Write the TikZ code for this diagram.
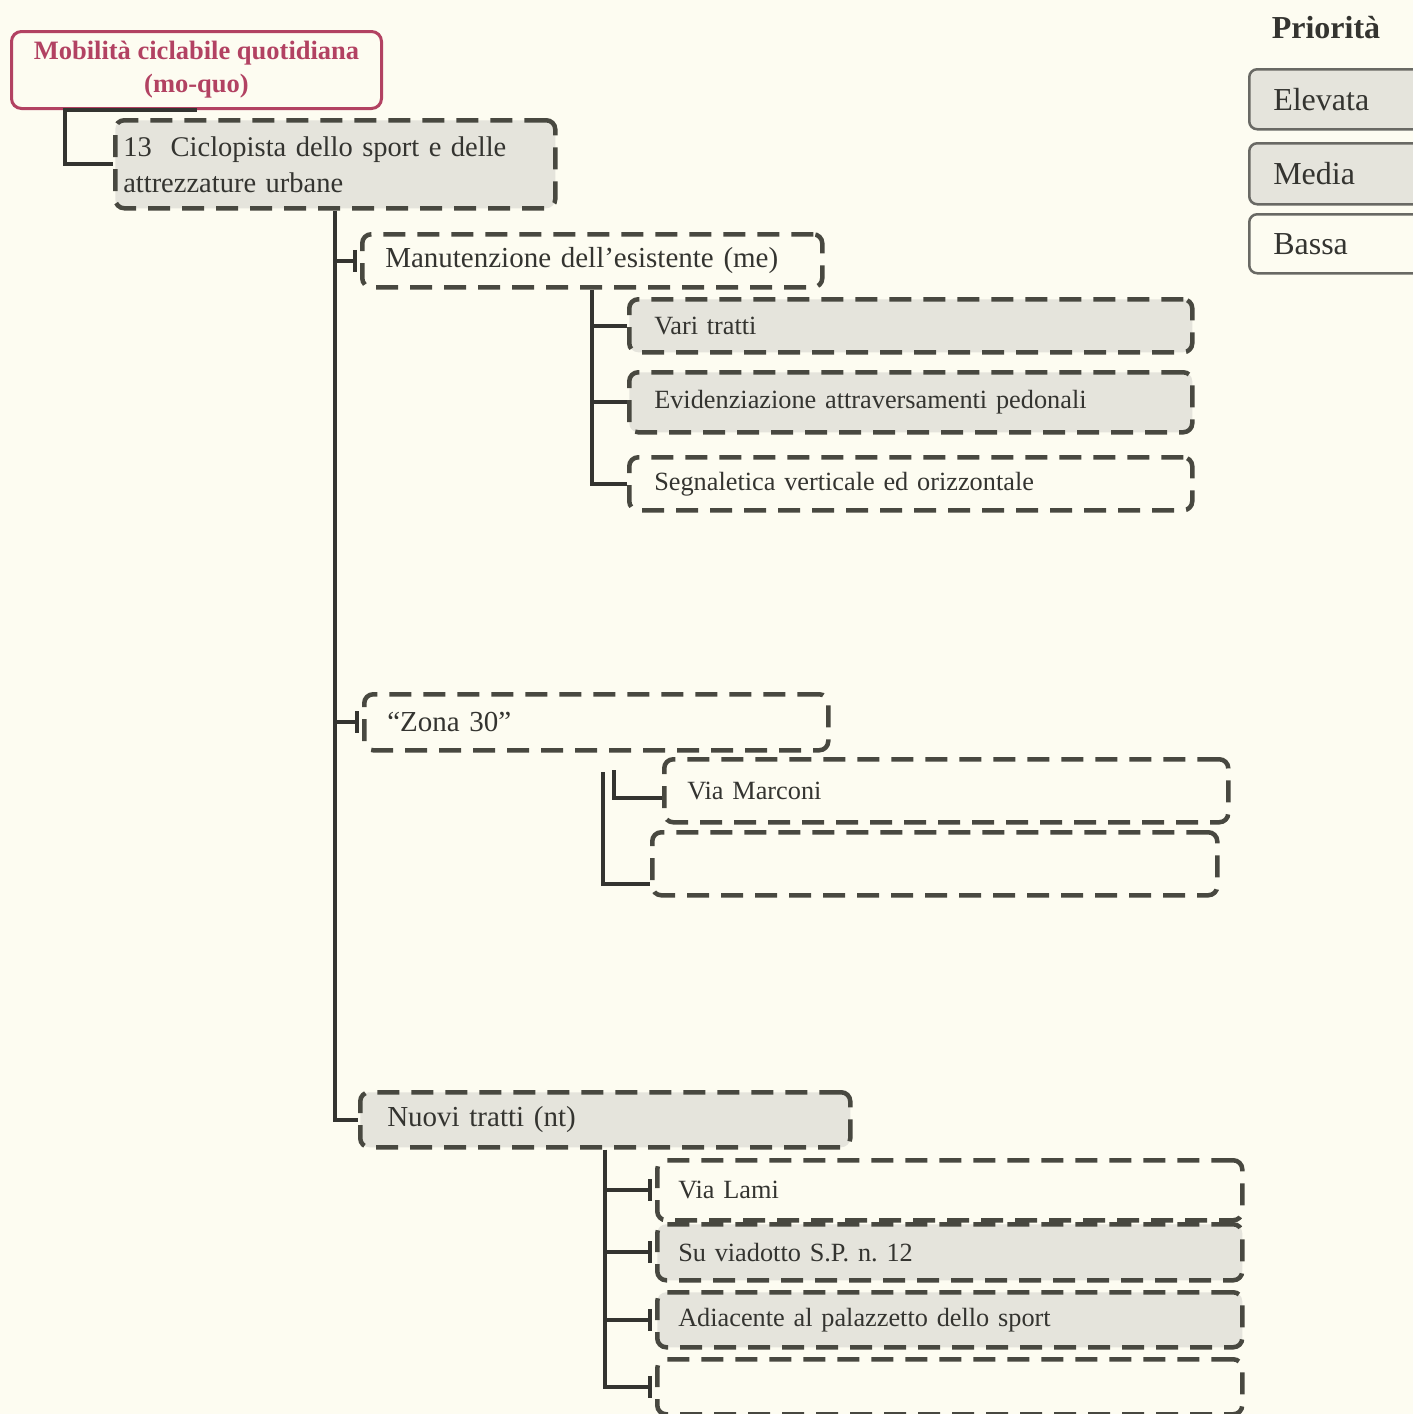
\documentclass[tikz,border=0pt]{standalone}
\usepackage{fontspec}
\setmainfont{Liberation Serif}
\usetikzlibrary{arrows.meta}
\definecolor{paper}{RGB}{253,252,241}
\definecolor{boxgray}{RGB}{229,228,220}
\definecolor{dashc}{RGB}{72,72,64}
\definecolor{ink}{RGB}{52,52,48}
\definecolor{rose}{RGB}{178,66,98}
\definecolor{legline}{RGB}{105,105,100}
\begin{document}
\frenchspacing
\begin{tikzpicture}[x=1pt,y=1pt,
  every node/.style={text=ink},
  dbox/.style={draw=dashc, line width=4.5pt, dash pattern=on 22pt off 12pt,
    rounded corners=9pt, anchor=north west, inner ysep=0pt, align=left},
  shade/.style={fill=boxgray},
  big/.style={font=\fontsize{29pt}{34pt}\selectfont},
  mid/.style={font=\fontsize{26.3pt}{32pt}\selectfont},
  legbox/.style={draw=legline, line width=2.5pt, rounded corners=8pt,
    anchor=north west, inner ysep=0pt, align=left,
    font=\fontsize{32pt}{36pt}\selectfont},
  link/.style={draw=ink, line width=4pt},
  tee/.style={link, -{Bar[width=22pt,line width=4pt]}, shorten >=3pt}
]
% page
\fill[paper] (0,0) rectangle (1413,-1414);
\useasboundingbox (0,0) rectangle (1413,-1414);

% root
\node[draw=rose, line width=3pt, rounded corners=10pt, anchor=north west,
  minimum width=370pt, minimum height=77pt, align=center, text=rose,
  font=\bfseries\fontsize{26.5pt}{33pt}\selectfont]
  (top) at (10,-30) {Mobilità ciclabile quotidiana\\(mo-quo)};

% first level
\node[dbox, shade, minimum width=440pt, minimum height=88pt, text width=424pt,
  inner xsep=8pt, font=\fontsize{28.5pt}{36pt}\selectfont]
  (n13) at (113,-118) {13\ \ Ciclopista dello sport e delle\\attrezzature urbane};

% second level
\node[dbox, big, minimum width=460pt, minimum height=53pt, text width=414pt,
  inner xsep=23pt] (me) at (360,-232) {Manutenzione dell’esistente (me)};
\node[dbox, big, minimum width=464pt, minimum height=56pt, text width=418pt,
  inner xsep=23pt] (zona) at (362,-692) {“Zona 30”};
\node[dbox, big, shade, minimum width=490pt, minimum height=55pt, text width=436pt,
  inner xsep=27pt] (nuovi) at (358,-1090) {Nuovi tratti (nt)};

% third level: maintenance
\node[dbox, mid, shade, minimum width=563pt, minimum height=53pt, text width=513pt,
  inner xsep=25pt] (vari) at (627,-297) {Vari tratti};
\node[dbox, mid, shade, minimum width=563pt, minimum height=60pt, text width=513pt,
  inner xsep=25pt] (evid) at (627,-370) {Evidenziazione attraversamenti pedonali};
\node[dbox, mid, minimum width=563pt, minimum height=53pt, text width=513pt,
  inner xsep=25pt] (segn) at (627,-455) {Segnaletica verticale ed orizzontale};

% third level: zone 30
\node[dbox, mid, minimum width=564pt, minimum height=63pt, text width=518pt,
  inner xsep=23pt] (marconi) at (662,-757) {Via Marconi};
\node[dbox, mid, minimum width=565pt, minimum height=63pt, text width=519pt,
  inner xsep=23pt] (zempty) at (650,-830) {};

% third level: new stretches
\node[dbox, mid, minimum width=585pt, minimum height=60pt, text width=543pt,
  inner xsep=21pt] (lami) at (655,-1158) {Via Lami};
\node[dbox, mid, shade, minimum width=585pt, minimum height=56pt, text width=543pt,
  inner xsep=21pt] (viad) at (655,-1222) {Su viadotto S.P. n. 12};
\node[dbox, mid, shade, minimum width=585pt, minimum height=55pt, text width=543pt,
  inner xsep=21pt] (adia) at (655,-1290) {Adiacente al palazzetto dello sport};
\node[dbox, mid, minimum width=585pt, minimum height=55pt, text width=543pt,
  inner xsep=21pt] (nempty) at (655,-1357) {};

% legend
\node[font=\bfseries\fontsize{32pt}{36pt}\selectfont] (prio) at (1326,-28) {Priorità};
\node[legbox, shade, minimum width=180pt, minimum height=60pt, text width=140pt,
  inner xsep=24pt] (elev) at (1248,-68) {Elevata};
\node[legbox, shade, minimum width=180pt, minimum height=61pt, text width=140pt,
  inner xsep=24pt] (media) at (1248,-142) {Media};
\node[legbox, fill=paper, minimum width=180pt, minimum height=59pt, text width=140pt,
  inner xsep=24pt] (bassa) at (1248,-213) {Bassa};

% connectors
\draw[link] (top.south) -- ++(-132,0) |- (n13.west);
\draw[link] (n13.south) |- (nuovi.west);
\draw[tee] (n13.south |- me.west) -- (me.west);
\draw[tee] (n13.south |- zona.west) -- (zona.west);

\draw[link] (me.south) |- (segn.west);
\draw[link] (me.south |- vari.west) -- (vari.west);
\draw[link] (me.south |- evid.west) -- (evid.west);

\coordinate (z1) at (614,-770);
\coordinate (z2) at (603,-772);
\draw[link] (z1) |- ([yshift=-7pt]marconi.west);
\draw[link] (z2) |- ([yshift=-20pt]zempty.west);

\draw[tee] (nuovi.south) |- (nempty.west);
\draw[tee] (nuovi.south |- lami.west) -- (lami.west);
\draw[tee] (nuovi.south |- viad.west) -- (viad.west);
\draw[tee] (nuovi.south |- adia.west) -- (adia.west);
\end{tikzpicture}
\end{document}
